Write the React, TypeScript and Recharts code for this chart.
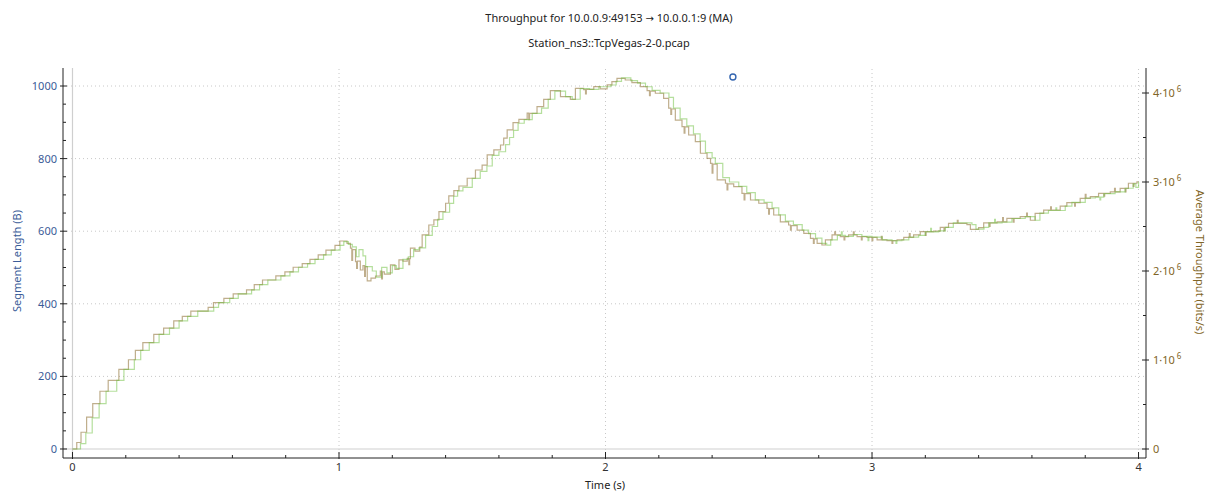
import React from 'react';
import { ComposedChart, Line, Scatter, XAxis, YAxis, ReferenceLine } from 'recharts';

// ---- data (time in s, throughput in bits/s, segment length in bytes) ----
const brownTimes = [
  0, 0.016, 0.032, 0.053, 0.076, 0.103, 0.134, 0.174, 0.21, 0.236, 0.264, 0.305, 0.342, 0.38, 0.412, 0.444,
  0.509, 0.529, 0.568, 0.603, 0.653, 0.682, 0.713, 0.763, 0.797, 0.828, 0.862, 0.891, 0.922, 0.951, 0.985,
  1.003, 1.03, 1.043, 1.048, 1.051, 1.062, 1.066, 1.069, 1.08, 1.09, 1.096, 1.099, 1.106, 1.12, 1.137, 1.155,
  1.16, 1.163, 1.17, 1.193, 1.21, 1.225, 1.24, 1.256, 1.262, 1.265, 1.268, 1.285, 1.303, 1.312, 1.337, 1.356,
  1.375, 1.4, 1.412, 1.431, 1.45, 1.481, 1.512, 1.537, 1.556, 1.581, 1.606, 1.618, 1.631, 1.653, 1.675, 1.706,
  1.712, 1.715, 1.743, 1.768, 1.793, 1.831, 1.868, 1.887, 1.918, 1.925, 1.928, 1.956, 1.98, 2.006, 2.024, 2.043,
  2.074, 2.099, 2.131, 2.156, 2.165, 2.168, 2.187, 2.218, 2.237, 2.245, 2.248, 2.262, 2.287, 2.295, 2.298, 2.312,
  2.337, 2.356, 2.381, 2.394, 2.4, 2.403, 2.419, 2.45, 2.456, 2.459, 2.481, 2.512, 2.52, 2.523, 2.544, 2.575,
  2.606, 2.612, 2.615, 2.631, 2.656, 2.687, 2.694, 2.697, 2.719, 2.744, 2.769, 2.78, 2.783, 2.794, 2.812,
  2.825, 2.85, 2.86, 2.863, 2.881, 2.895, 2.898, 2.912, 2.93, 2.933, 2.944, 2.96, 2.963, 2.981, 3.0, 3.003,
  3.019, 3.035, 3.038, 3.056, 3.075, 3.078, 3.094, 3.119, 3.14, 3.143, 3.156, 3.181, 3.2, 3.203, 3.231, 3.256,
  3.27, 3.273, 3.287, 3.32, 3.323, 3.356, 3.369, 3.4, 3.419, 3.44, 3.443, 3.469, 3.49, 3.493, 3.506, 3.53,
  3.533, 3.556, 3.58, 3.583, 3.594, 3.612, 3.644, 3.67, 3.673, 3.706, 3.731, 3.76, 3.763, 3.781, 3.8, 3.803,
  3.819, 3.85, 3.87, 3.873, 3.894, 3.91, 3.913, 3.931, 3.95, 3.953, 3.962, 3.98, 3.983, 3.994, 4.0,
];
const brownRates = [
  0, 0.073e6, 0.188e6, 0.359e6, 0.51e6, 0.649e6, 0.771e6, 0.895e6, 1.003e6, 1.109e6, 1.195e6, 1.289e6, 1.358e6, 1.44e6, 1.491e6, 1.55e6,
  1.591e6, 1.644e6, 1.693e6, 1.742e6, 1.787e6, 1.846e6, 1.899e6, 1.946e6, 1.99e6, 2.042e6, 2.082e6, 2.131e6, 2.182e6, 2.235e6, 2.288e6,
  2.337e6, 2.31e6, 2.256e6, 2.12e6, 2.24e6, 2.105e6, 2.03e6, 2.11e6, 2.011e6, 2.06e6, 1.94e6, 2.05e6, 1.89e6, 1.92e6, 1.944e6, 1.999e6,
  1.91e6, 1.99e6, 1.966e6, 2.068e6, 2.019e6, 2.124e6, 2.11e6, 2.142e6, 2.07e6, 2.14e6, 2.256e6, 2.223e6, 2.268e6, 2.405e6, 2.517e6, 2.574e6,
  2.668e6, 2.761e6, 2.843e6, 2.903e6, 2.955e6, 3.042e6, 3.135e6, 3.19e6, 3.304e6, 3.36e6, 3.416e6, 3.492e6, 3.585e6, 3.667e6, 3.704e6, 3.773e6,
  3.7e6, 3.77e6, 3.847e6, 3.928e6, 4.026e6, 3.959e6, 3.928e6, 4.053e6, 4.038e6, 3.99e6, 4.04e6, 4.071e6, 4.046e6, 4.091e6, 4.128e6, 4.165e6,
  4.146e6, 4.116e6, 4.071e6, 4.026e6, 3.97e6, 4.02e6, 3.997e6, 3.94e6, 3.829e6, 3.76e6, 3.82e6, 3.696e6, 3.622e6, 3.55e6, 3.62e6, 3.528e6,
  3.453e6, 3.323e6, 3.266e6, 3.21e6, 3.1e6, 3.2e6, 3.023e6, 2.986e6, 2.91e6, 2.98e6, 2.948e6, 2.872e6, 2.8e6, 2.87e6, 2.798e6, 2.761e6,
  2.704e6, 2.64e6, 2.7e6, 2.629e6, 2.553e6, 2.517e6, 2.46e6, 2.51e6, 2.46e6, 2.423e6, 2.366e6, 2.31e6, 2.36e6, 2.311e6, 2.292e6,
  2.35e6, 2.405e6, 2.44e6, 2.405e6, 2.386e6, 2.35e6, 2.386e6, 2.405e6, 2.44e6, 2.405e6, 2.386e6, 2.35e6, 2.386e6, 2.378e6, 2.34e6, 2.378e6,
  2.35e6, 2.39e6, 2.35e6, 2.341e6, 2.31e6, 2.341e6, 2.35e6, 2.378e6, 2.42e6, 2.378e6, 2.405e6, 2.442e6, 2.4e6, 2.442e6, 2.447e6, 2.49e6,
  2.45e6, 2.49e6, 2.536e6, 2.57e6, 2.536e6, 2.521e6, 2.468e6, 2.488e6, 2.541e6, 2.5e6, 2.541e6, 2.553e6, 2.6e6, 2.553e6, 2.592e6, 2.55e6,
  2.592e6, 2.611e6, 2.65e6, 2.611e6, 2.57e6, 2.647e6, 2.684e6, 2.72e6, 2.684e6, 2.729e6, 2.768e6, 2.73e6, 2.768e6, 2.817e6, 2.86e6, 2.817e6,
  2.835e6, 2.872e6, 2.84e6, 2.872e6, 2.888e6, 2.93e6, 2.888e6, 2.929e6, 2.89e6, 2.929e6, 2.986e6, 2.95e6, 2.986e6, 3.002e6, 3.002e6,
];

const greenTimes = [
  0, 0.03, 0.05, 0.074, 0.1, 0.126, 0.166, 0.193, 0.232, 0.256, 0.288, 0.325, 0.364, 0.4, 0.432, 0.47,
  0.53, 0.548, 0.59, 0.622, 0.672, 0.702, 0.733, 0.782, 0.816, 0.848, 0.882, 0.91, 0.942, 0.971, 1.004,
  1.018, 1.035, 1.05, 1.065, 1.075, 1.09, 1.1, 1.125, 1.14, 1.16, 1.18, 1.2, 1.215, 1.24, 1.26, 1.28,
  1.3, 1.325, 1.35, 1.37, 1.39, 1.415, 1.43, 1.445, 1.465, 1.5, 1.53, 1.555, 1.575, 1.6, 1.625, 1.64,
  1.655, 1.672, 1.695, 1.725, 1.76, 1.785, 1.81, 1.85, 1.875, 1.905, 1.94, 1.975, 2.02, 2.04, 2.06, 2.095,
  2.12, 2.15, 2.175, 2.205, 2.238, 2.255, 2.28, 2.305, 2.33, 2.355, 2.375, 2.4, 2.412, 2.44, 2.465, 2.5,
  2.53, 2.562, 2.595, 2.625, 2.65, 2.675, 2.705, 2.738, 2.762, 2.788, 2.812,
  2.83, 2.845, 2.87, 2.885, 2.888, 2.9, 2.93, 2.962, 2.985, 2.988, 3.0, 3.038, 3.075, 3.09, 3.093, 3.112,
  3.138, 3.175, 3.2, 3.22, 3.223, 3.25, 3.275, 3.305, 3.375, 3.39, 3.42, 3.438, 3.46, 3.463, 3.488, 3.525,
  3.575, 3.612, 3.63, 3.662, 3.69, 3.693, 3.725, 3.75, 3.8, 3.838, 3.855, 3.858, 3.87, 3.912, 3.95, 3.98,
  3.99, 4.0,
];
const greenRates = [
  0, 0.06e6, 0.18e6, 0.35e6, 0.51e6, 0.649e6, 0.771e6, 0.895e6, 1.003e6, 1.109e6, 1.195e6, 1.289e6, 1.358e6, 1.44e6, 1.491e6, 1.55e6,
  1.591e6, 1.644e6, 1.693e6, 1.742e6, 1.787e6, 1.846e6, 1.899e6, 1.946e6, 1.99e6, 2.042e6, 2.082e6, 2.131e6, 2.182e6, 2.235e6, 2.288e6,
  2.33e6, 2.3e6, 2.27e6, 2.16e6, 2.24e6, 2.17e6, 2.05e6, 2.0e6, 1.93e6, 2.04e6, 1.98e6, 2.06e6, 2.03e6, 2.13e6, 2.16e6, 2.24e6,
  2.26e6, 2.4e6, 2.5e6, 2.58e6, 2.66e6, 2.76e6, 2.84e6, 2.9e6, 2.94e6, 3.04e6, 3.12e6, 3.18e6, 3.3e6, 3.34e6, 3.42e6, 3.5e6,
  3.58e6, 3.66e6, 3.7e6, 3.77e6, 3.83e6, 3.93e6, 4.02e6, 3.96e6, 3.93e6, 4.05e6, 4.04e6, 4.07e6, 4.09e6, 4.13e6, 4.17e6, 4.14e6,
  4.11e6, 4.07e6, 4.03e6, 4.0e6, 3.95e6, 3.83e6, 3.71e6, 3.63e6, 3.54e6, 3.46e6, 3.33e6, 3.27e6, 3.21e6, 3.05e6, 3.0e6, 2.95e6,
  2.88e6, 2.8e6, 2.77e6, 2.71e6, 2.63e6, 2.56e6, 2.52e6, 2.46e6, 2.42e6, 2.37e6, 2.31e6,
  2.29e6, 2.35e6, 2.4e6, 2.44e6, 2.4e6, 2.39e6, 2.41e6, 2.39e6, 2.34e6, 2.39e6, 2.38e6, 2.35e6, 2.34e6, 2.31e6, 2.34e6, 2.35e6,
  2.38e6, 2.4e6, 2.44e6, 2.48e6, 2.44e6, 2.45e6, 2.49e6, 2.54e6, 2.52e6, 2.47e6, 2.49e6, 2.54e6, 2.58e6, 2.54e6, 2.55e6, 2.59e6,
  2.61e6, 2.57e6, 2.65e6, 2.68e6, 2.71e6, 2.68e6, 2.73e6, 2.77e6, 2.82e6, 2.83e6, 2.8e6, 2.83e6, 2.87e6, 2.89e6, 2.93e6, 2.98e6,
  2.94e6, 3.0e6,
];

const segmentTimes = [2.478];
const segmentLengths = [1025];

const xTicks = [0, 0.2, 0.4, 0.6, 0.8, 1, 1.2, 1.4, 1.6, 1.8, 2, 2.2, 2.4, 2.6, 2.8, 3, 3.2, 3.4, 3.6, 3.8, 4];
const xMajor = [0, 1, 2, 3, 4];
const leftTicks = [0, 50, 100, 150, 200, 250, 300, 350, 400, 450, 500, 550, 600, 650, 700, 750, 800, 850, 900, 950, 1000];
const leftMajor = [0, 200, 400, 600, 800, 1000];
const rightTicks = [0, 0.5e6, 1e6, 1.5e6, 2e6, 2.5e6, 3e6, 3.5e6, 4e6];
const rightMajor = [0, 1e6, 2e6, 3e6, 4e6];

const brownData = brownTimes.map((t, i) => ({ t, rate: brownRates[i] }));
const greenData = greenTimes.map((t, i) => ({ t, rate: greenRates[i] }));
const segData = segmentTimes.map((t, i) => ({ t, len: segmentLengths[i] }));

const FONT = '"Noto Sans", "Open Sans", sans-serif';
const BLUE = '#3b5c98';
const BROWN = '#7f6526';
const AXIS = '#222';
const GRID = '#c8c8c8';

const isIn = (arr: number[], v: number) => arr.some((a) => Math.abs(a - v) < 1e-9);

const LeftTick = (props: any) => {
  const { x, y, payload } = props;
  const major = isIn(leftMajor, payload.value);
  return (
    <g>
      <line x1={major ? x - 3 : x} x2={major ? x + 4 : x + 3} y1={y} y2={y} stroke={AXIS} strokeWidth={1} />
      {major && (
        <text x={x - 6} y={y} dy={4} textAnchor="end" fill={BLUE} fontSize={11} fontFamily={FONT}>
          {payload.value}
        </text>
      )}
    </g>
  );
};

const RightTick = (props: any) => {
  const { x, y, payload } = props;
  const v = payload.value;
  const major = isIn(rightMajor, v);
  return (
    <g>
      <line x1={major ? x - 4 : x - 3} x2={major ? x + 3 : x} y1={y} y2={y} stroke={AXIS} strokeWidth={1} />
      {major && (
        <text x={x + 7} y={y} dy={4} textAnchor="start" fill={BROWN} fontSize={11} fontFamily={FONT}>
          {v === 0 ? (
            '0'
          ) : (
            <>
              <tspan>{`${Math.round(v / 1e6)}·10`}</tspan>
              <tspan dx={2} dy={-5} fontSize={8}>6</tspan>
            </>
          )}
        </text>
      )}
    </g>
  );
};

const BottomTick = (props: any) => {
  const { x, y, payload } = props;
  const major = isIn(xMajor, payload.value);
  return (
    <g>
      <line x1={x} x2={x} y1={major ? y - 6 : y - 3} y2={major ? y + 1 : y} stroke={AXIS} strokeWidth={1} />
      {major && (
        <text x={x} y={y + 13} textAnchor="middle" fill="#333" fontSize={11} fontFamily={FONT}>
          {payload.value}
        </text>
      )}
    </g>
  );
};

const Circle = (props: any) => (
  <circle cx={props.cx} cy={props.cy} r={3} fill="none" stroke="#3566b0" strokeWidth={1.4} />
);

const txt: React.CSSProperties = {
  position: 'absolute',
  fontFamily: FONT,
  fontSize: 11,
  whiteSpace: 'nowrap',
  lineHeight: '14px',
};

export default function App() {
  return (
    <div style={{ position: 'absolute', left: 0, top: 0, width: 1219, height: 494, background: '#fff' }}>
      <ComposedChart
        width={1219}
        height={494}
        margin={{ top: 68, right: 13, bottom: 6, left: 3 }}
      >
        <XAxis
          dataKey="t"
          type="number"
          domain={[-0.0356, 4.028]}
          allowDataOverflow
          ticks={xTicks}
          interval={0}
          tick={<BottomTick />}
          tickLine={false}
          tickSize={0}
          tickMargin={0}
          height={30}
          axisLine={{ stroke: AXIS }}
        />
        <YAxis
          yAxisId="left"
          orientation="left"
          type="number"
          domain={[-24.8, 1049.6]}
          allowDataOverflow
          ticks={leftTicks}
          interval={0}
          tick={<LeftTick />}
          tickLine={false}
          tickSize={0}
          tickMargin={0}
          width={60}
          axisLine={{ stroke: AXIS }}
        />
        <YAxis
          yAxisId="right"
          orientation="right"
          type="number"
          domain={[-0.1011e6, 4.2809e6]}
          allowDataOverflow
          ticks={rightTicks}
          interval={0}
          tick={<RightTick />}
          tickLine={false}
          tickSize={0}
          tickMargin={0}
          width={60}
          axisLine={{ stroke: AXIS }}
        />
        {[200, 400, 600, 800, 1000].map((v) => (
          <ReferenceLine key={'h' + v} yAxisId="left" y={v} stroke={GRID} strokeDasharray="1 3" />
        ))}
        {[1, 2, 3, 4].map((v) => (
          <ReferenceLine key={'v' + v} yAxisId="left" x={v} stroke={GRID} strokeDasharray="1 3" />
        ))}
        <ReferenceLine yAxisId="left" y={0} stroke="#cfcfcf" strokeWidth={1.2} />
        <ReferenceLine yAxisId="left" x={0} stroke="#cfcfcf" strokeWidth={1.2} />
        <Line
          yAxisId="right"
          data={brownData}
          dataKey="rate"
          type="stepAfter"
          stroke="#8b6b2e"
          strokeOpacity={0.55}
          strokeWidth={1.2}
          dot={false}
          isAnimationActive={false}
        />
        <Line
          yAxisId="right"
          data={greenData}
          dataKey="rate"
          type="stepAfter"
          stroke="#6cbf3c"
          strokeOpacity={0.5}
          strokeWidth={1.2}
          dot={false}
          isAnimationActive={false}
        />
        <Scatter
          yAxisId="left"
          data={segData}
          dataKey="len"
          shape={<Circle />}
          isAnimationActive={false}
        />
      </ComposedChart>
      <div style={{ ...txt, left: 609, top: 18, transform: 'translate(-50%, -50%)', color: '#222' }}>
        Throughput for 10.0.0.9:49153 <span style={{ fontFamily: '"DejaVu Sans", sans-serif', fontSize: 10 }}>→</span> 10.0.0.1:9 (MA)
      </div>
      <div style={{ ...txt, left: 609, top: 43, transform: 'translate(-50%, -50%)', color: '#222' }}>
        Station_ns3::TcpVegas-2-0.pcap
      </div>
      <div style={{ ...txt, left: 605, top: 485, transform: 'translate(-50%, -50%)', color: '#222' }}>
        Time (s)
      </div>
      <div style={{ ...txt, left: 17, top: 261, transform: 'translate(-50%, -50%) rotate(-90deg)', color: BLUE }}>
        Segment Length (B)
      </div>
      <div style={{ ...txt, left: 1200, top: 262, transform: 'translate(-50%, -50%) rotate(90deg)', color: BROWN }}>
        Average Throughput (bits/s)
      </div>
    </div>
  );
}
